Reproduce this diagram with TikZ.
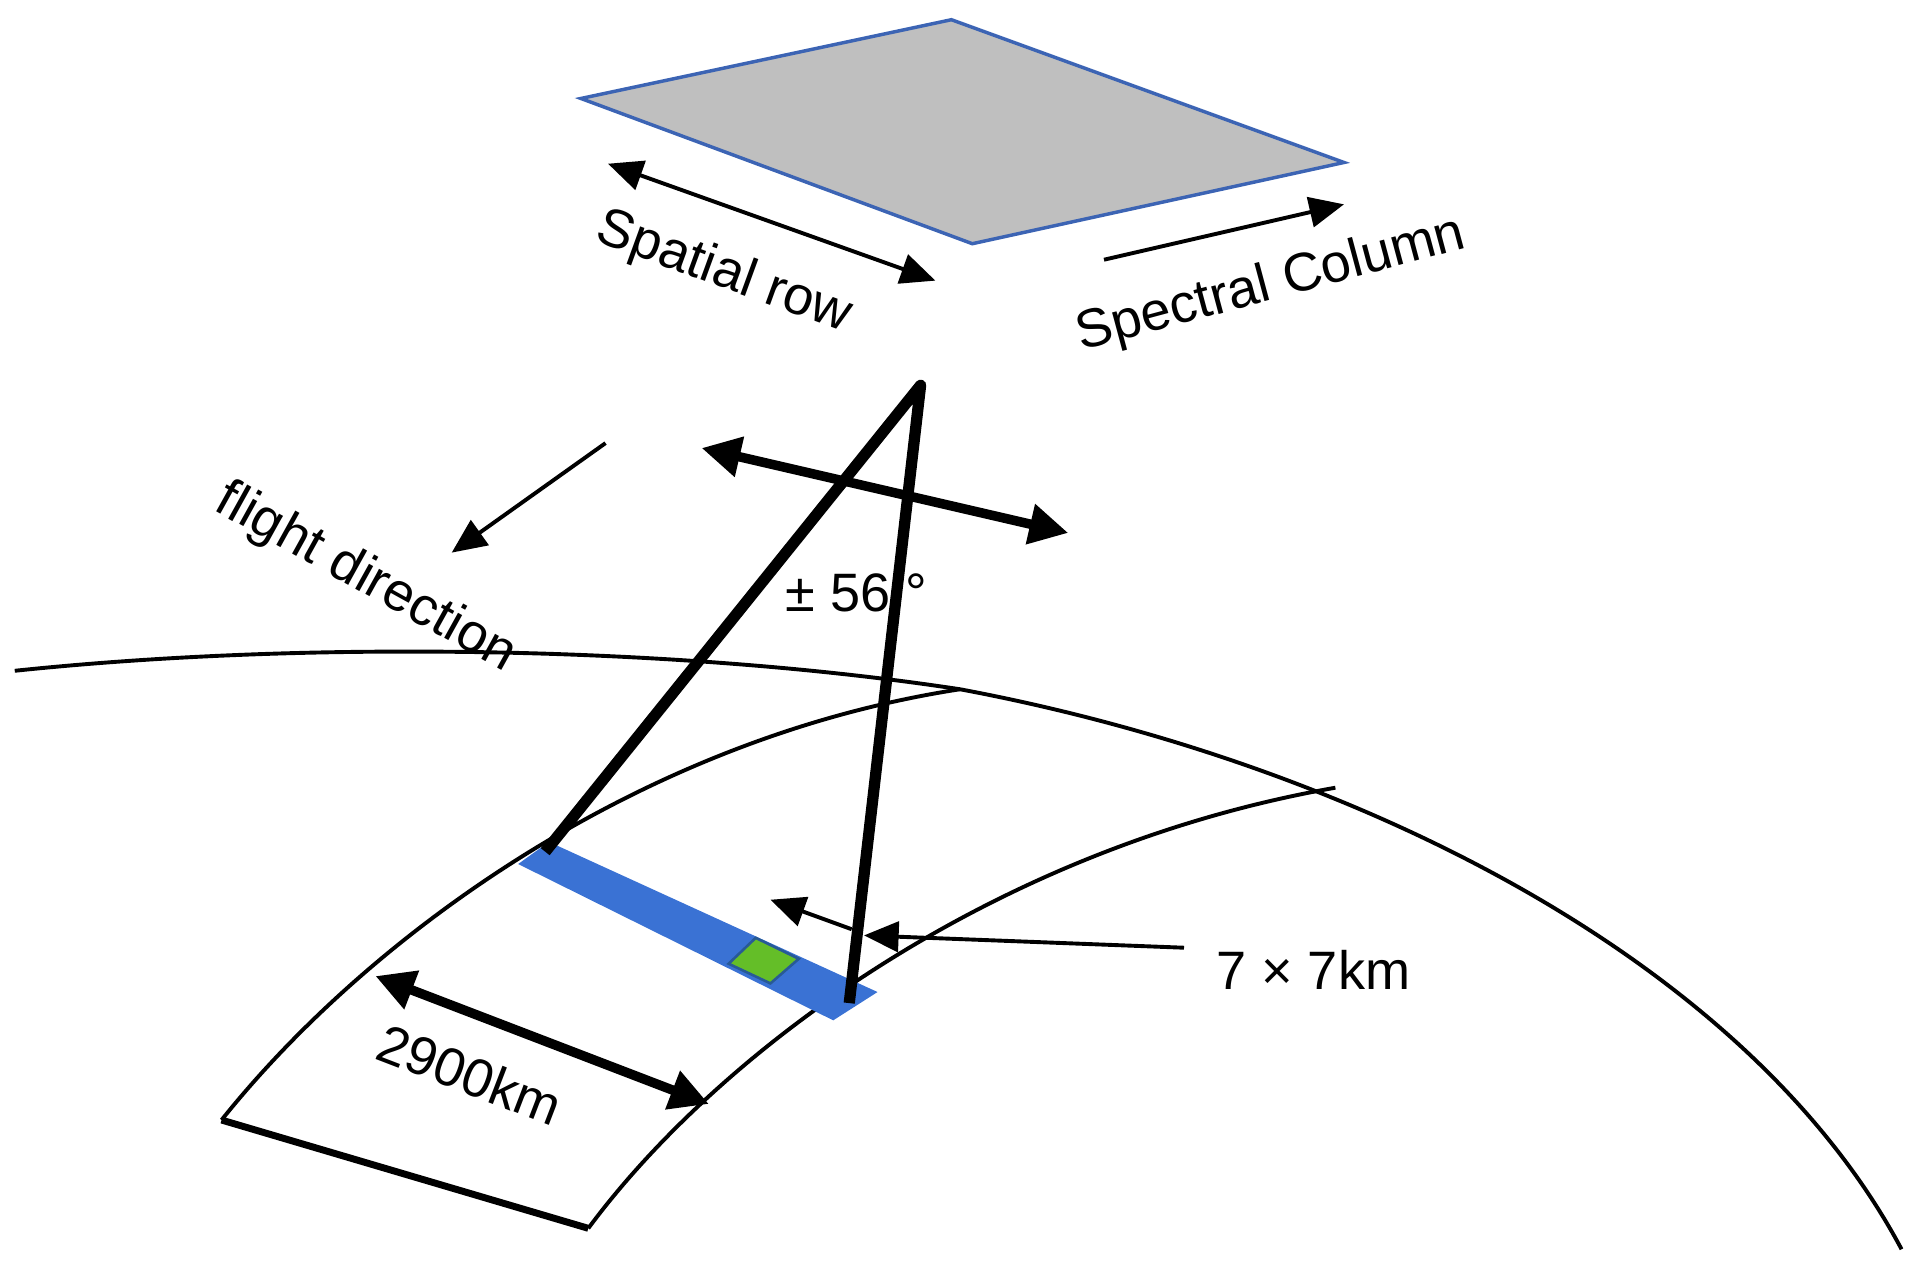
\documentclass[tikz,border=0pt]{standalone}
\usepackage{fontspec}
\setmainfont{Liberation Sans}
\usetikzlibrary{arrows.meta}
\definecolor{edgeblue}{RGB}{60,100,180}
\definecolor{bandblue}{RGB}{58,114,212}
\definecolor{pixgreen}{RGB}{100,190,40}
\definecolor{pixedge}{RGB}{40,90,150}
\begin{document}
\begin{tikzpicture}[x=0.01cm,y=-0.01cm,
  thin arrow/.style={draw,line width=0.9pt,-{Triangle[length=8pt,width=7pt]}},
  thin both/.style={draw,line width=0.9pt,{Triangle[length=8pt,width=7pt]}-{Triangle[length=8pt,width=7pt]}},
  thick both/.style={draw,line width=2.2pt,{Triangle[length=9pt,width=9pt]}-{Triangle[length=9pt,width=9pt]}},
  lbl/.style={font=\fontsize{12.5}{15}\selectfont}]
\useasboundingbox (0,0) rectangle (1560,1032);
% gray sensor plane
\filldraw[fill=black!25,draw=edgeblue,line width=0.8pt]
  (472,80) -- (773,16) -- (1092,132) -- (790,198) -- cycle;
\coordinate (sr1) at (494,133); \coordinate (sr2) at (760,228);
\draw[thin both] (sr1) -- (sr2);
\node[lbl,rotate=-20] (srl) at (588,222) {Spatial row};
\coordinate (sc1) at (897,211); \coordinate (sc2) at (1092,166);
\draw[thin arrow] (sc1) -- (sc2);
\node[lbl,rotate=15] (scl) at (1033,232) {Spectral Column};
% earth curve
\draw[line width=0.9pt] (12,545) .. controls (250,520) and (550,525) .. (780,560)
  .. controls (1100,620) and (1420,780) .. (1545,1015);
% swath
\draw[line width=0.9pt] (180,910) .. controls (300,760) and (520,600) .. (780,560);
\draw[line width=0.9pt] (478,998) .. controls (580,860) and (800,690) .. (1085,640);
\draw[line width=1.6pt] (180,910) -- (478,998);
% blue band
\fill[bandblue] (421,702) -- (446,684) -- (713,806) -- (677,829) -- cycle;
\filldraw[fill=pixgreen,draw=pixedge,line width=0.6pt]
  (592,783) -- (614,762) -- (649,779) -- (626,799) -- cycle;
% triangle
\coordinate (apex) at (748,313);
\coordinate (tl) at (443,692); \coordinate (tr) at (690,815);
\draw[line width=2.6pt,line join=round] (tl) -- (apex) -- (tr);
\coordinate (da1) at (570,364); \coordinate (da2) at (868,433);
\draw[thick both] (da1) -- (da2);
\node[lbl] (ang) at (696,482) {± 56 °};
% flight direction
\coordinate (f1) at (492,360); \coordinate (f2) at (367,449);
\draw[thin arrow] (f1) -- (f2);
\node[lbl,rotate=-29] (fl) at (297,470) {flight direction};
% 2900km
\coordinate (w1) at (305,793); \coordinate (w2) at (576,897);
\draw[thick both] (w1) -- (w2);
\node[lbl,rotate=-21] (wl) at (382,873) {2900km};
% 7x7
\coordinate (p1) at (962,770); \coordinate (p2) at (702,760);
\draw[thin arrow] (p1) -- (p2);
\coordinate (q1) at (692,755); \coordinate (q2) at (626,731);
\draw[thin arrow] (q1) -- (q2);
\node[lbl] (pl) at (1067,788) {7 × 7km};
\end{tikzpicture}
\end{document}
